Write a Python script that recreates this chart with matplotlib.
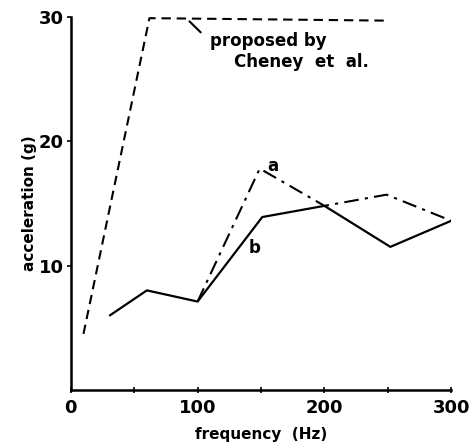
import matplotlib
matplotlib.use("Agg")
import matplotlib.pyplot as plt

# data
cheney_freq = [10, 62, 250]
cheney_acc = [4.5, 29.9, 29.7]

b_freq = [31, 60, 100, 151, 200, 252, 300]
b_acc = [6.0, 8.0, 7.1, 13.9, 14.8, 11.5, 13.6]

a_freq = [100, 149, 200, 249, 300]
a_acc = [7.1, 17.8, 14.8, 15.7, 13.6]

x_ticks = [0, 100, 200, 300]
x_minor = [50, 150, 250]
y_ticks = [10, 20, 30]

plt.rcParams['font.family'] = ['DejaVu Sans']
plt.rcParams['font.weight'] = 'bold'

fig = plt.figure(figsize=(4.72, 4.45), dpi=100)
ax = fig.add_axes([0.150, 0.124, 0.806, 0.838])

ax.plot(cheney_freq, cheney_acc, color='black', lw=1.5, linestyle=(0, (4.5, 2.8)))
ax.plot(b_freq, b_acc, color='black', lw=1.6, linestyle='-')
ax.plot(a_freq, a_acc, color='black', lw=1.5, linestyle=(0, (7, 3, 1.5, 3)))

ax.set_xlim(0, 300)
ax.set_ylim(0, 30)
for s in ['top', 'right']:
    ax.spines[s].set_visible(False)
for s in ['left', 'bottom']:
    ax.spines[s].set_linewidth(1.8)

ax.set_xticks(x_ticks)
ax.set_xticks(x_minor, minor=True)
ax.set_yticks(y_ticks)
ax.tick_params(axis='x', which='major', direction='inout', length=5, width=1.2,
               labelsize=13, pad=4)
ax.tick_params(axis='y', which='major', direction='out', length=3, width=1.2,
               labelsize=13, pad=2)
ax.tick_params(axis='x', which='minor', direction='inout', length=5, width=1.2)
for lbl in ax.get_xticklabels() + ax.get_yticklabels():
    lbl.set_fontweight('bold')

ax.set_xlabel('frequency  (Hz)', fontsize=11, fontweight='bold', labelpad=7)
ax.set_ylabel('acceleration (g)', fontsize=11, fontweight='bold', labelpad=1)

ax.text(159, 18.0, 'a', fontsize=12, fontweight='bold', ha='center', va='center')
ax.text(145, 11.4, 'b', fontsize=12, fontweight='bold', ha='center', va='center')

ax.annotate('', xy=(92, 29.8), xytext=(104, 28.6),
            arrowprops=dict(arrowstyle='-', color='black', lw=1.5))
ax.text(109.5, 28.1, 'proposed by', fontsize=12, fontweight='bold', ha='left', va='center')
ax.text(129, 26.4, 'Cheney  et  al.', fontsize=12, fontweight='bold', ha='left', va='center')

fig.savefig('out.png', dpi=100)
